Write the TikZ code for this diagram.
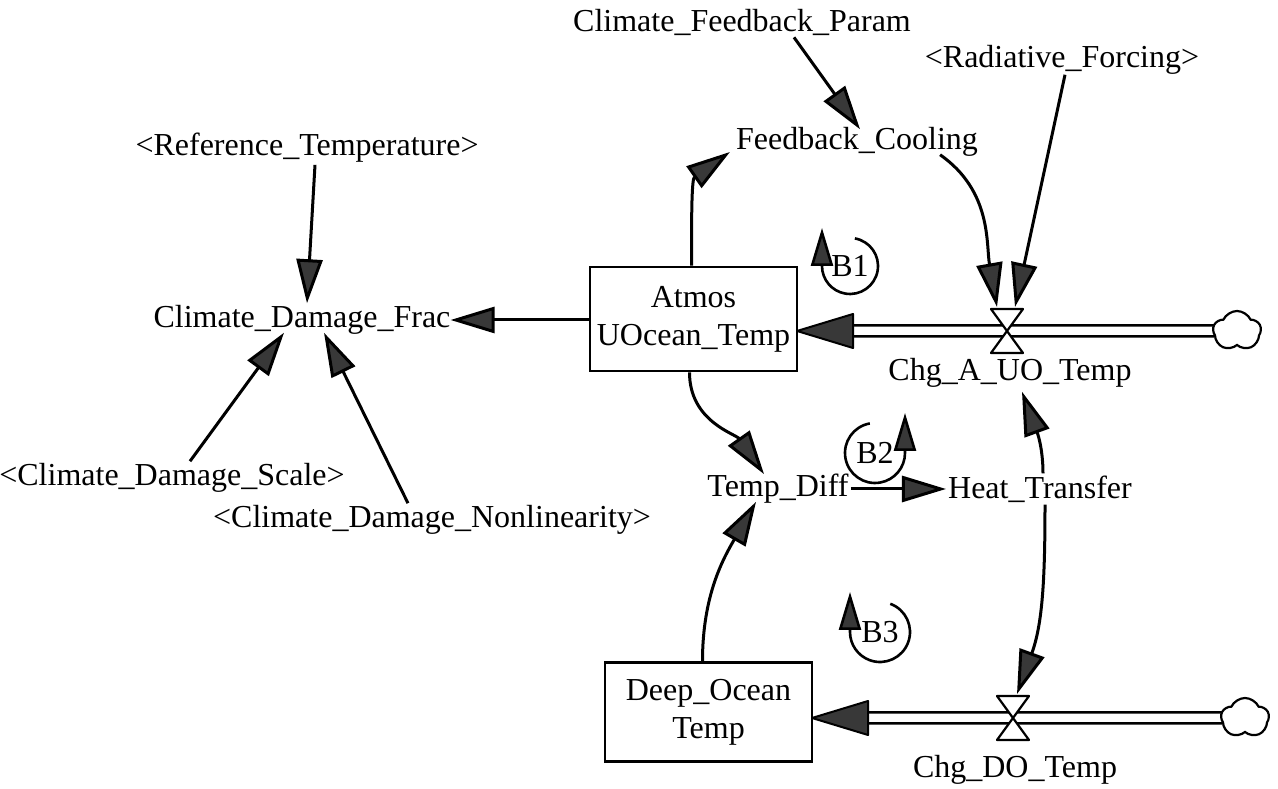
\documentclass[tikz,border=0pt]{standalone}
\usepackage{fontspec}
\setmainfont{Liberation Serif}
\usetikzlibrary{arrows.meta,shapes.symbols,calc}
\begin{document}
\begin{tikzpicture}[x=1pt,y=1pt,
  every node/.style={font=\fontsize{32}{38}\selectfont, inner sep=2pt},
  stock/.style={draw, line width=2.8pt, minimum width=207pt, minimum height=104pt, align=center},
  lnk/.style={line width=3pt, -{Triangle[length=44pt,width=26pt,fill=black!78]}},
  pipeline/.style={line width=2.5pt},
  valvebody/.style={fill=white, draw, line width=2.2pt, line join=round},
  flowhead/.style={fill=black!78, draw, line width=2pt, line join=round},
  cloudy/.style={cloud, cloud puffs=5, cloud puff arc=130, aspect=1.2, draw, line width=2.2pt, minimum width=48pt, minimum height=40pt, inner sep=0pt},
  loopline/.style={line width=2.6pt, -{Triangle[length=38pt,width=22pt,fill=black!78]}}
  ]
\useasboundingbox (0,0) rectangle (1278,789);

% variables
\node (cfp) at (742,767) {Climate\_Feedback\_Param};
\node (rf) at (1062,729) {<Radiative\_Forcing>};
\node (reft) at (307,641) {<Reference\_Temperature>};
\node (fc) at (857,647) {Feedback\_Cooling};
\node (cdf) at (302,469) {Climate\_Damage\_Frac};
\node (cds) at (172,311) {<Climate\_Damage\_Scale>};
\node (cdn) at (432,269) {<Climate\_Damage\_Nonlinearity>};
\node (td) at (778,300) {Temp\_Diff};
\node (ht) at (1040,300) {Heat\_Transfer};
\node (cauo) at (1010,416) {Chg\_A\_UO\_Temp};
\node (cdo) at (1015,19) {Chg\_DO\_Temp};

% stocks
\node[stock] (atmos) at (693.5,470) {Atmos\\UOcean\_Temp};
\node[stock, minimum height=99pt] (deep) at (708.5,77) {Deep\_Ocean\\Temp};

% clouds and valves
\node[cloudy] (cl1) at (1237,458) {};
\node[cloudy] (cl2) at (1245,71) {};
\coordinate (v1) at (1007,458);
\coordinate (v2) at (1013,71);
\coordinate (a1) at (797,458);
\coordinate (d1) at (812,71);

% pipes
\draw[pipeline] ($(a1)+(50,5.5)$) -- ($(cl1.west)+(2,5.5)$);
\draw[pipeline] ($(a1)+(50,-5.5)$) -- ($(cl1.west)+(2,-5.5)$);
\draw[pipeline] ($(d1)+(50,5.5)$) -- ($(cl2.west)+(2,5.5)$);
\draw[pipeline] ($(d1)+(50,-5.5)$) -- ($(cl2.west)+(2,-5.5)$);
\draw[flowhead] (a1) -- ++(56,17) -- ++(0,-34) -- cycle;
\draw[flowhead] (d1) -- ++(56,17) -- ++(0,-34) -- cycle;
\draw[valvebody] ($(v1)+(-16,22)$) -- ++(32,0) -- ($(v1)+(-16,-22)$) -- ++(32,0) -- cycle;
\draw[valvebody] ($(v2)+(-16,22)$) -- ++(32,0) -- ($(v2)+(-16,-22)$) -- ++(32,0) -- cycle;

% links
\draw[lnk] ($(cfp.south)+(52,0)$) -- ($(fc.north)+(3,-4)$);
\draw[lnk] ($(rf.south)+(3,2)$) -- ($(v1)+(8,24)$);
\draw[lnk] ($(fc.south east)+(-40,4)$) to[out=-35,in=100] ($(v1)+(-10,24)$);
\draw[lnk] ($(atmos.north)+(-2,0)$) to[out=90,in=215] ($(fc.west)+(-4,-10)$);
\draw[lnk] (atmos.west |- cdf.east) -- ($(cdf.east)+(-2,0)$);
\draw[lnk] ($(reft.south)+(8,0)$) -- ($(cdf.north)+(5,0)$);
\draw[lnk] ($(cds.north)+(18,0)$) -- ($(cdf.south)+(-18,4)$);
\draw[lnk] ($(cdn.north)+(-24,0)$) -- ($(cdf.south)+(22,4)$);
\draw[lnk] ($(atmos.south)+(-4,0)$) to[out=-90,in=125] ($(td.north)+(-14,-2)$);
\draw[lnk] ($(deep.north)+(-6,0)$) to[out=90,in=240] ($(td.south)+(-22,4)$);
\draw[lnk] (td.east) -- (ht.west);
\draw[lnk] ($(ht.north)+(3,0)$) to[out=90,in=-70] ($(cauo.south)+(12,-2)$);
\draw[lnk] ($(ht.south)+(5,0)$) to[out=-90,in=70] ($(v2)+(4,24)$);

% loop markers
\coordinate (b1) at (850,523);
\coordinate (b2) at (875,336);
\coordinate (b3) at (880,157);
\draw[loopline] ($(b1)+(80:28)$) arc[start angle=80,end angle=-180,radius=28] -- ++(0,38);
\node at (b1) {B1};
\draw[loopline] ($(b2)+(100:30)$) arc[start angle=100,end angle=360,radius=30] -- ++(0,40);
\node at (b2) {B2};
\draw[loopline] ($(b3)+(70:30)$) arc[start angle=70,end angle=-180,radius=30] -- ++(0,40);
\node at (b3) {B3};
\end{tikzpicture}
\end{document}
